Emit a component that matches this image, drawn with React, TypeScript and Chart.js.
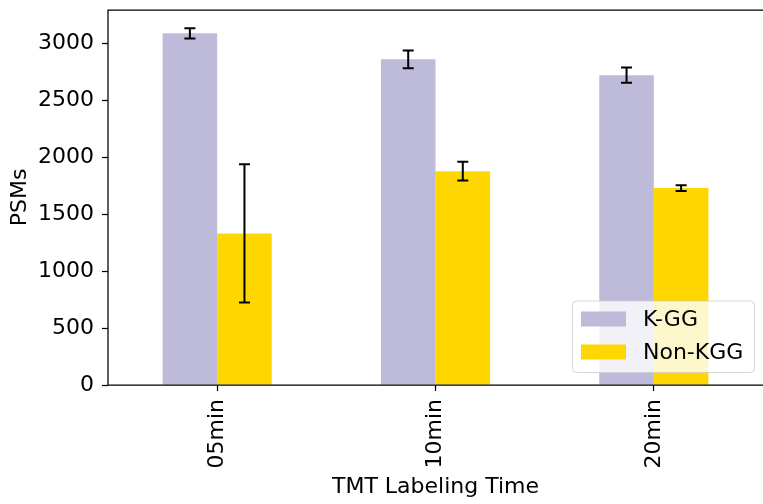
import React, { useEffect, useRef } from "react";
import { Chart, registerables } from "chart.js";

Chart.register(...registerables);

const categories = ["05min", "10min", "20min"];
const kggValues = [3090, 2862, 2722];
const kggErrors = [45, 78, 67];
const nonKggValues = [1332, 1879, 1730];
const nonKggErrors = [608, 82, 26];
const yTickValues = [0, 500, 1000, 1500, 2000, 2500, 3000];
const seriesNames = ["K-GG", "Non-KGG"];
const seriesColors = ["#bebada", "#ffd700"];

const FONT = "'DejaVu Sans', sans-serif";
const FONT_SIZE = 22;

const errorBarPlugin = {
  id: "errorBars",
  afterDatasetsDraw(chart: any) {
    const ctx = chart.ctx;
    const yScale = chart.scales.y;
    ctx.save();
    ctx.strokeStyle = "#000";
    ctx.lineWidth = 2;
    chart.data.datasets.forEach((ds: any, d: number) => {
      const meta = chart.getDatasetMeta(d);
      meta.data.forEach((bar: any, i: number) => {
        const v = ds.data[i];
        const e = ds.errors[i];
        const x = bar.x;
        const yHi = yScale.getPixelForValue(v + e);
        const yLo = yScale.getPixelForValue(v - e);
        const cap = 5.5;
        ctx.beginPath();
        ctx.moveTo(x, yHi);
        ctx.lineTo(x, yLo);
        ctx.moveTo(x - cap, yHi);
        ctx.lineTo(x + cap, yHi);
        ctx.moveTo(x - cap, yLo);
        ctx.lineTo(x + cap, yLo);
        ctx.stroke();
      });
    });
    ctx.restore();
  },
};

const framePlugin = {
  id: "frameAndLegend",
  afterDraw(chart: any) {
    const ctx = chart.ctx;
    const { left, top, right, bottom } = chart.chartArea;
    ctx.save();
    ctx.strokeStyle = "#000";
    ctx.lineWidth = 1.25;
    ctx.beginPath();
    ctx.moveTo(left, bottom);
    ctx.lineTo(left, top);
    ctx.lineTo(right + 2, top);
    ctx.moveTo(left, bottom);
    ctx.lineTo(right + 2, bottom);
    ctx.stroke();

    // legend
    const bx = 572.5, by = 301, bw = 182, bh = 71.5, r = 4;
    ctx.beginPath();
    ctx.moveTo(bx + r, by);
    ctx.lineTo(bx + bw - r, by);
    ctx.arcTo(bx + bw, by, bx + bw, by + r, r);
    ctx.lineTo(bx + bw, by + bh - r);
    ctx.arcTo(bx + bw, by + bh, bx + bw - r, by + bh, r);
    ctx.lineTo(bx + r, by + bh);
    ctx.arcTo(bx, by + bh, bx, by + bh - r, r);
    ctx.lineTo(bx, by + r);
    ctx.arcTo(bx, by, bx + r, by, r);
    ctx.closePath();
    ctx.fillStyle = "rgba(255,255,255,0.8)";
    ctx.fill();
    ctx.strokeStyle = "rgba(204,204,204,0.8)";
    ctx.lineWidth = 1;
    ctx.stroke();

    const rowsY = [319, 352];
    ctx.font = `${FONT_SIZE}px ${FONT}`;
    ctx.textBaseline = "middle";
    ctx.textAlign = "left";
    seriesNames.forEach((name, i) => {
      ctx.fillStyle = seriesColors[i];
      ctx.fillRect(581, rowsY[i] - 7.5, 45, 15);
      ctx.fillStyle = "#000";
      ctx.fillText(name, 643, rowsY[i] + 1);
    });
    ctx.restore();
  },
};

export default function App() {
  const canvasRef = useRef<HTMLCanvasElement | null>(null);

  useEffect(() => {
    document.body.style.margin = "0";
    const canvas = canvasRef.current;
    if (!canvas) return;
    const chart = new Chart(canvas, {
      type: "bar",
      data: {
        labels: categories,
        datasets: [
          {
            label: seriesNames[0],
            data: kggValues,
            errors: kggErrors,
            backgroundColor: seriesColors[0],
            borderWidth: 0,
            categoryPercentage: 0.5,
            barPercentage: 1.0,
          } as any,
          {
            label: seriesNames[1],
            data: nonKggValues,
            errors: nonKggErrors,
            backgroundColor: seriesColors[1],
            borderWidth: 0,
            categoryPercentage: 0.5,
            barPercentage: 1.0,
          } as any,
        ],
      },
      options: {
        responsive: false,
        animation: false,
        devicePixelRatio: 1,
        layout: { padding: { top: 0, left: 0, right: 0, bottom: 0 } },
        plugins: {
          legend: { display: false },
          tooltip: { enabled: false },
          title: { display: false },
        },
        scales: {
          x: {
            type: "category",
            offset: true,
            grid: {
              display: true,
              drawOnChartArea: false,
              drawTicks: true,
              tickLength: 6,
              tickWidth: 1.25,
              tickColor: "#000",
              offset: false,
            },
            border: { display: false },
            ticks: {
              color: "#000",
              font: { family: FONT, size: FONT_SIZE },
              minRotation: 90,
              maxRotation: 90,
              autoSkip: false,
              padding: 8,
            },
            title: {
              display: true,
              text: "TMT Labeling Time",
              color: "#000",
              font: { family: FONT, size: FONT_SIZE },
              padding: { top: 0, bottom: 4 },
            },
            afterFit(scale: any) {
              scale.height = 119;
            },
          },
          y: {
            type: "linear",
            min: 0,
            max: 3295,
            grid: {
              display: true,
              drawOnChartArea: false,
              drawTicks: true,
              tickLength: 6,
              tickWidth: 1.25,
              tickColor: "#000",
            },
            border: { display: false },
            ticks: {
              color: "#000",
              font: { family: FONT, size: FONT_SIZE },
              stepSize: 500,
              padding: 8,
              callback: (v: any) => String(v),
            },
            afterBuildTicks(scale: any) {
              scale.ticks = yTickValues.map((v) => ({ value: v }));
            },
            title: {
              display: true,
              text: "PSMs",
              color: "#000",
              font: { family: FONT, size: FONT_SIZE },
              padding: { top: 7, bottom: 0 },
            },
            afterFit(scale: any) {
              scale.width = 108;
              scale.paddingTop = 10;
            },
          },
        },
      } as any,
      plugins: [errorBarPlugin, framePlugin],
    });
    return () => chart.destroy();
  }, []);

  return (
    <div style={{ width: 763, height: 504 }}>
      <canvas ref={canvasRef} width={763} height={504} />
    </div>
  );
}
